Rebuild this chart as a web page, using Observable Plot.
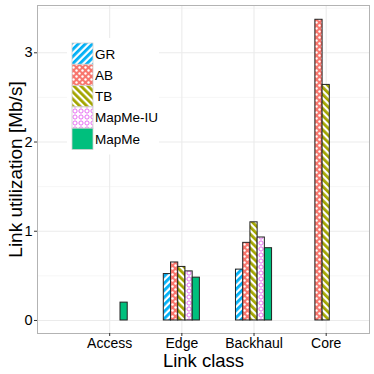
<!DOCTYPE html>
<html>
<head>
<meta charset="utf-8">
<script src="https://cdn.jsdelivr.net/npm/d3@7"></script>
<script src="https://cdn.jsdelivr.net/npm/@observablehq/plot@0.6"></script>
<style>
  html, body { margin: 0; padding: 0; background: white; }
  #chart svg { display: block; }
</style>
</head>
<body>
<div id="chart"></div>
<script>
// ---- Data ----
const categories = ["Access", "Edge", "Backhaul", "Core"];
const series = ["GR", "AB", "TB", "MapMe-IU", "MapMe"];
const valuesGR      = [null, 0.52, 0.57, null];
const valuesAB      = [null, 0.65, 0.87, 3.37];
const valuesTB      = [null, 0.60, 1.10, 2.64];
const valuesMapMeIU = [null, 0.55, 0.93, null];
const valuesMapMe   = [0.20, 0.48, 0.81, null];
const yTicks = [0, 1, 2, 3];
const yMinorTicks = [0.5, 1.5, 2.5, 3.5];
const xTitle = "Link class";
const yTitle = "Link utilization [Mb/s]";

const seriesColors = ["#00B0F6", "#F8766D", "#A3A500", "#E76BF3", "#00BF7D"];
const seriesFills = ["url(#pGR)", "url(#pAB)", "url(#pTB)", "url(#pIU)", "#00BF7D"];

const allValues = [valuesGR, valuesAB, valuesTB, valuesMapMeIU, valuesMapMe];
const barW = 0.1;
const rows = [];
series.forEach((s, si) => {
  allValues[si].forEach((v, ci) => {
    if (v != null) rows.push({category: categories[ci], pos: ci + 1, series: s, si, value: v});
  });
});

const font = "'Liberation Sans', Arial, Helvetica, sans-serif";

const chart = Plot.plot({
  width: 374,
  height: 374,
  marginLeft: 37,
  marginRight: 5,
  marginTop: 5,
  marginBottom: 41,
  style: {fontFamily: font, fontSize: "14px", background: "white", color: "black"},
  x: {domain: [0, 4.6], axis: null},
  y: {domain: [-0.146, 3.53], axis: null},
  color: {domain: series, range: seriesFills},
  marks: [
    Plot.gridY(yMinorTicks, {stroke: "#f2f2f2", strokeOpacity: 1, strokeWidth: 0.7}),
    Plot.gridY(yTicks, {stroke: "#ebebeb", strokeOpacity: 1, strokeWidth: 1.1}),
    Plot.gridX(categories.map((c, i) => i + 1), {stroke: "#ebebeb", strokeOpacity: 1, strokeWidth: 1.1}),
    Plot.rect(rows, {
      x1: d => d.pos + (d.si - 2.5) * barW,
      x2: d => d.pos + (d.si - 1.5) * barW,
      y1: 0,
      y2: "value",
      fill: "series",
      stroke: "#222",
      strokeWidth: 1
    }),
    Plot.frame({stroke: "#b3b3b3", strokeWidth: 1}),
    Plot.axisY(yTicks, {tickSize: 3, tickPadding: 2, stroke: "#333", fill: "black", fontSize: 14.5, label: null, tickFormat: d => String(d)}),
    Plot.axisX(categories.map((c, i) => i + 1), {tickSize: 3, tickPadding: 2, stroke: "#333", fill: "black", fontSize: 14, label: null, tickFormat: d => categories[d - 1]}),
    Plot.text([xTitle], {frameAnchor: "bottom", dy: 33, text: d => d, fontSize: 18.5, lineAnchor: "bottom", textAnchor: "middle", fill: "black"}),
    Plot.text([yTitle], {frameAnchor: "left", dx: -15.5, rotate: -90, text: d => d, fontSize: 19, lineAnchor: "bottom", textAnchor: "middle", fill: "black"})
  ]
});

document.getElementById("chart").appendChild(chart);

// ---- Patterns ----
const svg = d3.select(chart);
const defs = svg.insert("defs", ":first-child");
function stripe(id, color, angle) {
  const p = defs.append("pattern").attr("id", id).attr("patternUnits", "userSpaceOnUse")
    .attr("width", 5).attr("height", 5).attr("patternTransform", `rotate(${angle})`);
  p.append("rect").attr("width", 5).attr("height", 5).attr("fill", "white");
  p.append("rect").attr("width", 2.8).attr("height", 5).attr("fill", color);
}
stripe("pGR", seriesColors[0], 45);
stripe("pTB", seriesColors[2], -45);
{
  const p = defs.append("pattern").attr("id", "pAB").attr("patternUnits", "userSpaceOnUse")
    .attr("width", 6).attr("height", 6);
  p.append("rect").attr("width", 6).attr("height", 6).attr("fill", seriesColors[1]);
  p.append("circle").attr("cx", 1.5).attr("cy", 1.5).attr("r", 1.2).attr("fill", "white");
  p.append("circle").attr("cx", 4.5).attr("cy", 4.5).attr("r", 1.2).attr("fill", "white");
}
{
  const p = defs.append("pattern").attr("id", "pIU").attr("patternUnits", "userSpaceOnUse")
    .attr("width", 6).attr("height", 6);
  p.append("rect").attr("width", 6).attr("height", 6).attr("fill", "white");
  p.append("circle").attr("cx", 3).attr("cy", 3).attr("r", 2.1).attr("fill", "none")
    .attr("stroke", seriesColors[3]).attr("stroke-width", 1);
}

// ---- Legend (inside panel, top-left) ----
const lg = svg.append("g").attr("class", "legend").attr("text-anchor", "start");
const lx = 72, ly = 43, sw = 21, sh = 21.3;
lg.append("rect").attr("x", lx - 5).attr("y", ly - 5).attr("width", 92).attr("height", series.length * sh + 10).attr("fill", "white");
series.forEach((s, i) => {
  lg.append("rect").attr("x", lx).attr("y", ly + i * sh).attr("width", sw).attr("height", sh)
    .attr("fill", seriesFills[i]).attr("stroke", "#d0d0d0").attr("stroke-width", 0.8);
  lg.append("text").attr("x", lx + sw + 2).attr("y", ly + i * sh + sh / 2).attr("dy", "0.36em")
    .attr("text-anchor", "start")
    .attr("font-size", 13.5).attr("font-family", font).attr("fill", "black").text(s);
});
</script>
</body>
</html>
